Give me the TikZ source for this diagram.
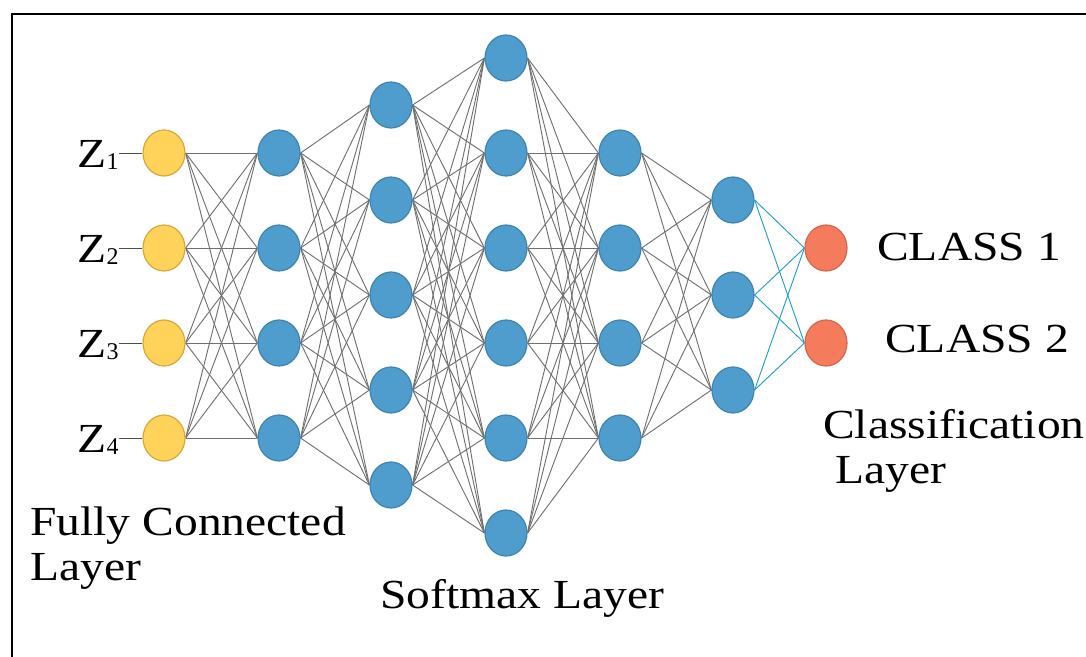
\documentclass[tikz,border=0pt]{standalone}
\usepackage{fontspec}
\setmainfont{Liberation Serif}
\usetikzlibrary{shapes.geometric,backgrounds,positioning}

\definecolor{inyellow}{RGB}{255,210,90}
\definecolor{inborder}{RGB}{214,168,60}
\definecolor{hidblue}{RGB}{78,157,204}
\definecolor{hidborder}{RGB}{62,132,178}
\definecolor{outorange}{RGB}{244,124,92}
\definecolor{outborder}{RGB}{214,100,74}
\definecolor{linkgray}{RGB}{112,112,112}
\definecolor{linkcyan}{RGB}{30,160,200}

\newcommand{\wtxt}[1]{\scalebox{1.15}[1]{#1}}
\newcommand{\zsub}[1]{\raisebox{-2pt}{\fontsize{18}{18}\selectfont #1}}

\begin{document}
\begin{tikzpicture}[x=0.75pt,y=-0.75pt,
    neuron/.style={ellipse,draw,line width=0.9pt,minimum width=31.5pt,minimum height=34.5pt,inner sep=0pt},
    link/.style={draw=linkgray,line width=0.7pt},
    outlink/.style={draw=linkcyan,line width=0.7pt},
    lbl/.style={font=\fontsize{31}{35}\selectfont,inner sep=0pt,anchor=base west}]

  \useasboundingbox (0,0) rectangle (1086,657);
  \draw[line width=1.5pt] (12,657) -- (12,14) -- (1086,14);

  % fully connected input
  \begin{scope}[every node/.style={neuron,fill=inyellow,draw=inborder}]
    \node (a1) at (164,153) {};
    \node (a2) at (164,248) {};
    \node (a3) at (164,343) {};
    \node (a4) at (164,438) {};
  \end{scope}

  % hidden layers
  \begin{scope}[every node/.style={neuron,fill=hidblue,draw=hidborder}]
    \node (b1) at (279,153) {};
    \node (b2) at (279,248) {};
    \node (b3) at (279,343) {};
    \node (b4) at (279,438) {};
    \node (c1) at (391,105) {};
    \node (c2) at (391,200) {};
    \node (c3) at (391,295) {};
    \node (c4) at (391,390) {};
    \node (c5) at (391,485) {};
    \node (d1) at (506,58)  {};
    \node (d2) at (506,153) {};
    \node (d3) at (506,248) {};
    \node (d4) at (506,343) {};
    \node (d5) at (506,438) {};
    \node (d6) at (506,533) {};
    \node (e1) at (620,153) {};
    \node (e2) at (620,248) {};
    \node (e3) at (620,343) {};
    \node (e4) at (620,438) {};
    \node (f1) at (733,200) {};
    \node (f2) at (733,295) {};
    \node (f3) at (733,390) {};
  \end{scope}

  % classes
  \begin{scope}[every node/.style={neuron,fill=outorange,draw=outborder}]
    \node (o1) at (826,248) {};
    \node (o2) at (826,343) {};
  \end{scope}

  \begin{scope}[on background layer]
    \foreach \i in {1,...,4} \foreach \j in {1,...,4}
      \draw[link] (a\i.east) -- (b\j.west);
    \foreach \i in {1,...,4} \foreach \j in {1,...,5}
      \draw[link] (b\i.east) -- (c\j.west);
    \foreach \i in {1,...,5} \foreach \j in {1,...,6}
      \draw[link] (c\i.east) -- (d\j.west);
    \foreach \i in {1,...,6} \foreach \j in {1,...,4}
      \draw[link] (d\i.east) -- (e\j.west);
    \foreach \i in {1,...,4} \foreach \j in {1,...,3}
      \draw[link] (e\i.east) -- (f\j.west);
    \foreach \i in {1,...,3} \foreach \j in {1,2}
      \draw[outlink] (f\i.east) -- (o\j.west);
  \end{scope}

  % inputs
  \begin{scope}[every node/.style={lbl,anchor=base east}]
    \node (z1) at (119,167) {\wtxt{Z}\zsub{1}};
    \node (z2) at (119,262) {\wtxt{Z}\zsub{2}};
    \node (z3) at (119,357) {\wtxt{Z}\zsub{3}};
    \node (z4) at (119,452) {\wtxt{Z}\zsub{4}};
  \end{scope}
  \foreach \k in {1,...,4}
    \draw[black!70,line width=0.7pt] (z\k.east |- a\k) -- (a\k.west);

  % texts
  \node[lbl] (cl1) at (877,260) {\wtxt{CLASS 1}};
  \node[lbl] (cl2) at (885,352) {\wtxt{CLASS 2}};
  \node[lbl] (cls1) at (823,438) {\wtxt{Classification}};
  \node[lbl] (cls2) at (835,483) {\wtxt{Layer}};
  \node[lbl] (fc1) at (30,535) {\wtxt{Fully Connected}};
  \node[lbl] (fc2) at (30,580) {\wtxt{Layer}};
  \node[lbl] (soft) at (380,608) {\wtxt{Softmax Layer}};

\end{tikzpicture}
\end{document}
